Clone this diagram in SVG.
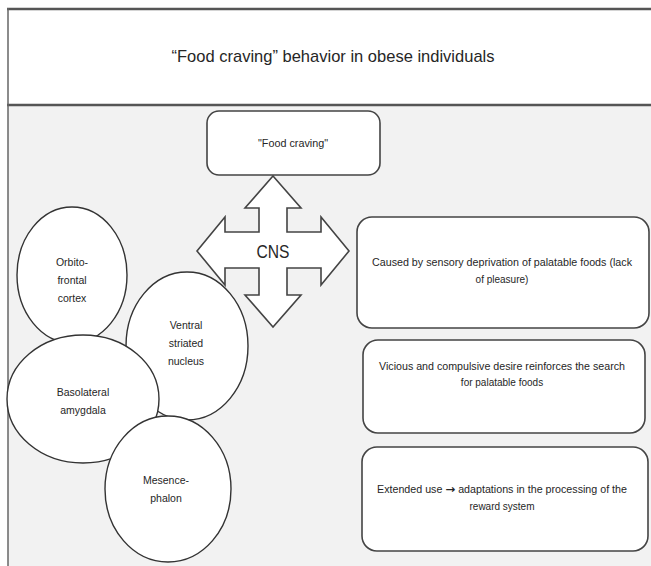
<svg xmlns="http://www.w3.org/2000/svg" width="651" height="566" viewBox="0 0 651 566">
<style>
text{font-family:"Liberation Sans","DejaVu Sans",sans-serif;fill:#262626;text-anchor:middle}
.frame{stroke:#555;stroke-width:2.5;fill:none}
.box{fill:#fff;stroke:#444;stroke-width:1.6}
.ell{fill:#fff;stroke:#333;stroke-width:1.4}
.t{font-size:10px}
.e{font-size:10.5px}
</style>
<rect x="8" y="9" width="643" height="557" fill="#f2f2f2"/>
<rect x="8" y="9" width="643" height="96" fill="#fff"/>
<g id="frame">
<line class="frame" x1="7" y1="9" x2="651" y2="9"/>
<line class="frame" x1="7" y1="105" x2="651" y2="105"/>
<line x1="8" y1="8" x2="8" y2="566" stroke="#666" stroke-width="1.5"/>
</g>
<g id="title">
<text x="333" y="62" font-size="17" textLength="323" lengthAdjust="spacingAndGlyphs">“Food craving” behavior in obese individuals</text>
</g>
<g id="food-craving">
<rect class="box" x="207" y="111" width="173" height="64" rx="12"/>
<text class="t" x="293" y="147" textLength="70" lengthAdjust="spacingAndGlyphs">"Food craving"</text>
</g>
<g id="cns">
<path class="box" stroke-width="1.5" d="M273,176 L301,208 L287,208 L287,232 L321,232 L321,217 L349,251 L321,285 L321,268 L287,268 L287,295 L301,295 L273,327 L245,295 L259,295 L259,268 L225,268 L225,285 L197,251 L225,217 L225,232 L259,232 L259,208 L245,208 Z"/>
<text x="273" y="258" font-size="19" textLength="33" lengthAdjust="spacingAndGlyphs">CNS</text>
</g>
<g id="orbitofrontal">
<ellipse class="ell" cx="72" cy="275" rx="55" ry="68"/>
<text class="e" x="72" y="266">Orbito-</text>
<text class="e" x="72" y="284">frontal</text>
<text class="e" x="72" y="302">cortex</text>
</g>
<g id="ventral">
<ellipse class="ell" cx="187" cy="346" rx="61" ry="74"/>
<text class="e" x="186" y="329">Ventral</text>
<text class="e" x="186" y="347">striated</text>
<text class="e" x="186" y="365">nucleus</text>
</g>
<g id="basolateral">
<ellipse class="ell" cx="83" cy="399" rx="76" ry="64"/>
<text class="e" x="83" y="396">Basolateral</text>
<text class="e" x="83" y="414">amygdala</text>
</g>
<g id="mesencephalon">
<ellipse class="ell" cx="168" cy="489" rx="63" ry="73"/>
<text class="e" x="166" y="484">Mesence-</text>
<text class="e" x="166" y="502">phalon</text>
</g>
<g id="box1">
<rect class="box" x="357" y="217" width="292" height="111" rx="15"/>
<text class="t" x="502" y="266" textLength="260" lengthAdjust="spacingAndGlyphs">Caused by sensory deprivation of palatable foods (lack</text>
<text class="t" x="502" y="283">of pleasure)</text>
</g>
<g id="box2">
<rect class="box" x="363" y="340" width="282" height="93" rx="15"/>
<text class="t" x="502" y="370" textLength="246" lengthAdjust="spacingAndGlyphs">Vicious and compulsive  desire reinforces the search</text>
<text class="t" x="502" y="386">for palatable foods</text>
</g>
<g id="box3">
<rect class="box" x="362" y="447" width="286" height="104" rx="15"/>
<text class="t" x="502" y="493" textLength="250" lengthAdjust="spacingAndGlyphs">Extended use <tspan font-family="DejaVu Sans, sans-serif" font-weight="bold" font-size="11">→</tspan> adaptations in the processing of the</text>
<text class="t" x="502" y="510">reward system</text>
</g>
<g id="connectors"></g>
</svg>
